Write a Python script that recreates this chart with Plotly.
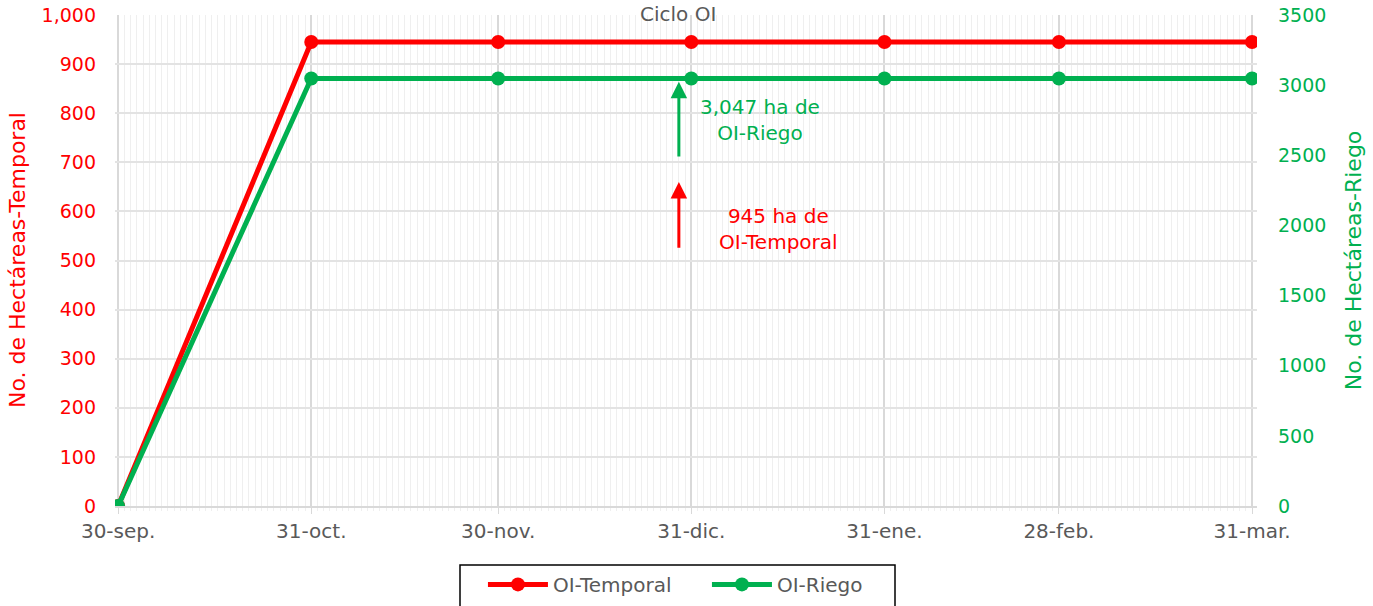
import plotly.graph_objects as go

fechas = ["2018-09-30", "2018-10-31", "2018-11-30", "2018-12-31", "2019-01-31", "2019-02-28", "2019-03-31"]
etiquetas = ["30-sep.", "31-oct.", "30-nov.", "31-dic.", "31-ene.", "28-feb.", "31-mar."]
temporal = [0, 945, 945, 945, 945, 945, 945]
riego = [0, 3047, 3047, 3047, 3047, 3047, 3047]

RED = "#FF0000"
GREEN = "#00B050"
GRAY = "#595959"
FONT = "DejaVu Sans"

fig = go.Figure()
fig.add_trace(go.Scatter(x=fechas, y=temporal, name="OI-Temporal", mode="lines+markers",
                         line=dict(color=RED, width=5), marker=dict(size=14, color=RED)))
fig.add_trace(go.Scatter(x=fechas, y=riego, name="OI-Riego", mode="lines+markers", yaxis="y2",
                         line=dict(color=GREEN, width=5), marker=dict(size=14, color=GREEN)))

fig.update_layout(
    width=1373, height=606,
    margin=dict(l=115, r=116, t=15, b=100, autoexpand=False),
    paper_bgcolor="white", plot_bgcolor="white",
    font=dict(family=FONT, size=18, color=GRAY),
    showlegend=True,
    legend=dict(orientation="h", x=0.3222, xanchor="left", y=-0.12, yanchor="top",
                borderwidth=0, bgcolor="rgba(0,0,0,0)", font=dict(size=20, color=GRAY),
                itemwidth=60, entrywidth=149, entrywidthmode="pixels"),
    xaxis=dict(
        type="date", automargin=False,
        range=["2018-09-29 12:00", "2019-03-31 19:00"],
        tickvals=fechas, ticktext=etiquetas,
        tickfont=dict(size=20, color=GRAY),
        showgrid=True, gridcolor="#D9D9D9", gridwidth=1.5,
        showline=True, linecolor="#D9D9D9", linewidth=1.5,
        ticks="outside", ticklen=6, tickcolor="#D9D9D9",
        minor=dict(dtick=86400000, showgrid=True, gridcolor="#EFEFEF", gridwidth=1,
                   ticks="outside", ticklen=3, tickcolor="#EFEFEF"),
        zeroline=False,
    ),
    yaxis=dict(
        range=[0, 1000], dtick=100, tickformat=",", automargin=False,
        tickfont=dict(size=19, color=RED), ticklabeloverflow="allow",
        showgrid=True, gridcolor="#E3E3E3", gridwidth=1.5,
        zeroline=False, ticklabelstandoff=18,
    ),
    yaxis2=dict(
        range=[0, 3500], dtick=500, overlaying="y", side="right", automargin=False,
        tickfont=dict(size=19, color=GREEN), ticklabeloverflow="allow",
        title=dict(text="No. de Hectáreas-Riego", font=dict(size=22, color=GREEN), standoff=20),
        showgrid=False, zeroline=False, ticklabelstandoff=20,
    ),
)

# left axis title
fig.add_annotation(text="No. de Hectáreas-Temporal", xref="paper", yref="paper",
                   x=(17 - 115) / 1142, y=(506 - 260) / 491, textangle=-90,
                   xanchor="center", yanchor="middle", showarrow=False,
                   font=dict(size=22, color=RED))

# legend frame
fig.add_shape(type="rect", xref="paper", yref="paper",
              x0=(460 - 115) / 1142, x1=(895 - 115) / 1142,
              y0=(506 - 640) / 491, y1=(506 - 565) / 491,
              line=dict(color="black", width=1.5), fillcolor="rgba(0,0,0,0)", layer="above")

# chart title at the very top
fig.add_annotation(text="Ciclo OI", xref="paper", yref="paper", x=0.493, y=1 + 15 / 491,
                   yanchor="top", showarrow=False, font=dict(size=20, color=GRAY))

# arrows
fig.add_annotation(x="2018-12-29", y=864, ax="2018-12-29", ay=709, xref="x", yref="y",
                   axref="x", ayref="y", text="", showarrow=True, arrowhead=2,
                   arrowsize=1.1, arrowwidth=3, arrowcolor=GREEN)
fig.add_annotation(x="2018-12-29", y=660, ax="2018-12-29", ay=523, xref="x", yref="y",
                   axref="x", ayref="y", text="", showarrow=True, arrowhead=2,
                   arrowsize=1.1, arrowwidth=3, arrowcolor=RED)

fig.add_annotation(x="2019-01-11", y=786, xref="x", yref="y", showarrow=False,
                   text="3,047 ha de<br>OI-Riego", font=dict(size=20, color=GREEN), align="center")
fig.add_annotation(x="2019-01-14", y=564, xref="x", yref="y", showarrow=False,
                   text="945 ha de<br>OI-Temporal", font=dict(size=20, color=RED), align="center")

fig.write_html("out.html", config={"displayModeBar": False},
               post_script="document.body.style.margin='0';document.body.style.overflow='hidden';")
